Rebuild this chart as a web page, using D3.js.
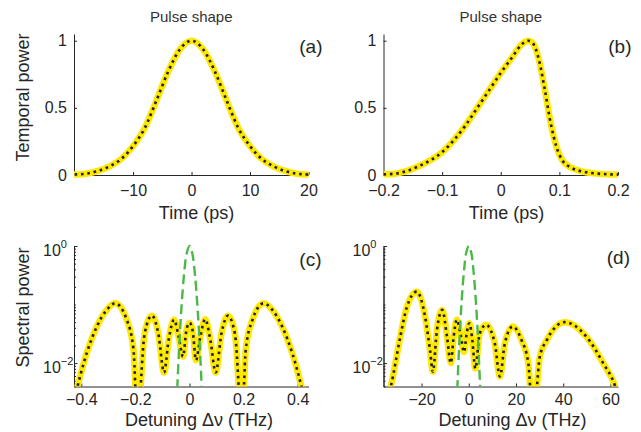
<!DOCTYPE html>
<meta charset="utf-8">
<title>Pulse shape and spectra</title>
<script src="https://d3js.org/d3.v7.min.js"></script>

<style>
  body {
    margin: 0;
    background: #fff;
  }

  svg {
    display: block;
    font-family: "Liberation Sans", Arial, Helvetica, sans-serif;
  }

  .axis path,
  .axis line {
    stroke: #262626;
  }

  .axis text {
    font-family: "Liberation Sans", Arial, Helvetica, sans-serif;
    font-size: 16px;
    fill: #262626;
  }

  .title {
    font-size: 15px;
    fill: #333;
    text-anchor: middle;
  }

  .label {
    font-size: 18px;
    fill: #262626;
    text-anchor: middle;
  }

  .tag {
    font-size: 19px;
    fill: #262626;
    text-anchor: end;
  }

  .yellow {
    fill: none;
    stroke: #ffe800;
    stroke-width: 6.5;
    stroke-linejoin: round;
    stroke-linecap: round;
  }

  .dots {
    fill: none;
    stroke: #1e1e24;
    stroke-width: 2.6;
    stroke-dasharray: 2.6 3.8;
  }

  .gauss {
    fill: none;
    stroke: #4db848;
    stroke-width: 2.4;
    stroke-dasharray: 10 5;
  }
</style>

<body>
  <svg width="641" height="432"></svg>
</body>

<script>
  // (a) temporal power, symmetric pulse
  var timeA = [-20, -18, -16, -14, -12, -10, -8, -6, -4, -2, 0, 2, 4, 6, 8, 10, 12, 14, 16, 18, 20];
  var powerA = [0.004, 0.01, 0.03, 0.065, 0.12, 0.215, 0.35, 0.555, 0.77, 0.935, 1,
    0.935, 0.77, 0.555, 0.35, 0.215, 0.12, 0.065, 0.03, 0.01, 0.004];

  // (b) temporal power, asymmetric pulse
  var timeB = [-0.2, -0.18, -0.16, -0.14, -0.12, -0.1, -0.08, -0.06, -0.04, -0.02, 0, 0.02, 0.035, 0.047,
    0.055, 0.065, 0.075, 0.085, 0.095, 0.105, 0.12, 0.14, 0.16, 0.18, 0.2];
  var powerB = [0.005, 0.01, 0.03, 0.065, 0.11, 0.17, 0.26, 0.37, 0.5, 0.63, 0.76, 0.88, 0.97, 1,
    0.98, 0.86, 0.64, 0.39, 0.21, 0.11, 0.055, 0.025, 0.012, 0.006, 0.003];

  // (c) spectral power (yellow/dotted) and reference (green dashed)
  var freqC = [-0.425, -0.38, -0.343, -0.306, -0.275, -0.232, -0.207, -0.193, -0.166, -0.139, -0.115,
    -0.094, -0.077, -0.057, -0.04, -0.024, -0.012, 0, 0.012, 0.024, 0.04, 0.058, 0.077, 0.097,
    0.118, 0.142, 0.168, 0.194, 0.208, 0.233, 0.274, 0.306, 0.343, 0.38, 0.425];
  var specC = [0.0025, 0.0148, 0.0417, 0.0813, 0.105, 0.055, 0.017, 0.001, 0.0316, 0.0646, 0.0316,
    0.0069, 0.025, 0.055, 0.028, 0.0129, 0.035, 0.049, 0.035, 0.0112, 0.028, 0.056, 0.025, 0.0069,
    0.0316, 0.0646, 0.0316, 0.001, 0.017, 0.055, 0.105, 0.0813, 0.0417, 0.0148, 0.0025];
  var freqGreenC = [-0.05, -0.04, -0.03, -0.02, -0.01, 0, 0.01, 0.02, 0.03, 0.04, 0.05];
  var specGreenC = [0.0011, 0.0126, 0.085, 0.334, 0.76, 1, 0.76, 0.334, 0.085, 0.0126, 0.0011];

  // (d) spectral power (yellow/dotted) and reference (green dashed)
  var freqD = [-36, -33, -29, -26.2, -22, -18.5, -16.4, -15.2, -13.5, -11.2, -9.2, -7.6, -6.4, -5.1,
    -3.5, -2, -0.9, 0.25, 1.5, 2.8, 4.6, 7.3, 11, 13.2, 15.3, 18.6, 22.4, 25.2, 27.3, 30.1, 33,
    40.7, 49.9, 56.9, 62, 63.5];
  var specD = [0.0016, 0.004, 0.028, 0.091, 0.166, 0.062, 0.0166, 0.0071, 0.036, 0.081, 0.028, 0.01,
    0.028, 0.055, 0.0316, 0.0155, 0.0316, 0.048, 0.025, 0.0081, 0.0316, 0.045, 0.022, 0.0059,
    0.022, 0.042, 0.0245, 0.01, 0.001, 0.0129, 0.0245, 0.05, 0.028, 0.01, 0.004, 0.0025];
  var freqGreenD = [-6, -5, -4, -3, -2, -1, 0, 1, 2, 3, 4, 5, 6];
  var specGreenD = [0.00018, 0.0025, 0.022, 0.115, 0.38, 0.79, 1, 0.79, 0.38, 0.115, 0.022, 0.0025, 0.00018];

  var svg = d3.select("svg");
  var cols = [[74, 308.5], [383.5, 618]];
  var rows = [[175, 34], [386.5, 246]];

  function panel(o) {
    var xr = cols[o.col], yr = rows[o.row];
    var x = d3.scaleLinear().domain(o.xDomain).range(xr);
    var y = o.log
      ? d3.scaleLog().domain([Math.pow(10, -2.4), 1]).range(yr)
      : d3.scaleLinear().domain([0, 1.05]).range(yr);

    var g = svg.append("g");

    // axes (drawn under the curves)
    g.append("g")
      .attr("class", "axis")
      .attr("transform", "translate(0," + yr[0] + ")")
      .call(d3.axisBottom(x).tickValues(o.xTicks).tickFormat(d3.format(""))
        .tickSizeInner(-3).tickSizeOuter(0).tickPadding(o.row ? 7 : 10));

    if (o.log) {
      var minor = y.ticks().filter(function (v) { return v !== 0.01 && v !== 1; });
      g.append("g")
        .attr("class", "axis")
        .attr("transform", "translate(" + xr[0] + ",0)")
        .call(d3.axisLeft(y).tickValues(minor).tickFormat("").tickSizeInner(-2).tickSizeOuter(0));

      var major = g.append("g")
        .attr("class", "axis")
        .attr("transform", "translate(" + xr[0] + ",0)")
        .call(d3.axisLeft(y).tickValues([0.01, 1]).tickFormat("").tickSizeInner(-3.5).tickSizeOuter(0));

      major.selectAll(".tick text")
        .attr("text-anchor", "start")
        .attr("x", -31)
        .attr("dy", null)
        .attr("y", 9.5)
        .each(function (d) {
          var t = d3.select(this);
          t.append("tspan").text("10");
          t.append("tspan")
            .attr("dy", -8.5)
            .style("font-size", "11px")
            .text(d === 1 ? "0" : "\u22122");
        });
    } else {
      g.append("g")
        .attr("class", "axis")
        .attr("transform", "translate(" + xr[0] + ",0)")
        .call(d3.axisLeft(y).tickValues([0, 0.5, 1]).tickFormat(d3.format(""))
          .tickSizeInner(-3).tickSizeOuter(0).tickPadding(7));
    }

    // curves
    var clipId = "clip" + o.tag;
    svg.append("clipPath").attr("id", clipId)
      .append("rect")
      .attr("x", xr[0]).attr("y", yr[1] - 6)
      .attr("width", xr[1] - xr[0]).attr("height", yr[0] - yr[1] + 6 + (o.log ? 0 : 6));

    var curves = g.append("g").attr("clip-path", "url(#" + clipId + ")");

    var line = d3.line()
      .x(function (d) { return x(d[0]); })
      .y(function (d) { return y(d[1]); })
      .curve(d3.curveMonotoneX);

    var pts = d3.zip(o.xs, o.ys);
    curves.append("path").attr("class", "yellow").attr("d", line(pts));
    curves.append("path").attr("class", "dots").attr("d", line(pts));

    if (o.gx) {
      curves.append("path").attr("class", "gauss")
        .attr("d", line.curve(d3.curveCatmullRom)(d3.zip(o.gx, o.gy)));
    }

    // texts
    g.append("text").attr("class", "tag")
      .attr("x", o.tagX).attr("y", o.tagY)
      .text("(" + o.tag + ")");

    g.append("text").attr("class", "label")
      .attr("x", o.labelX).attr("y", o.row ? 426 : 219)
      .text(o.row ? "Detuning \u0394\u03bd (THz)" : "Time (ps)");

    if (!o.row) {
      g.append("text").attr("class", "title")
        .attr("x", (xr[0] + xr[1]) / 2).attr("y", 21.5)
        .text("Pulse shape");
    }
  }

  panel({ tag: "a", row: 0, col: 0, xDomain: [-20.1, 20], xTicks: [-10, 0, 10, 20],
    xs: timeA, ys: powerA, tagX: 322.5, tagY: 53, labelX: 196.5 });
  panel({ tag: "b", row: 0, col: 1, xDomain: [-0.2, 0.2], xTicks: [-0.2, -0.1, 0, 0.1, 0.2],
    xs: timeB, ys: powerB, tagX: 631.5, tagY: 53, labelX: 506.5 });
  panel({ tag: "c", row: 1, col: 0, log: true, xDomain: [-0.427, 0.44], xTicks: [-0.4, -0.2, 0, 0.2, 0.4],
    xs: freqC, ys: specC, gx: freqGreenC, gy: specGreenC, tagX: 321.5, tagY: 266, labelX: 199 });
  panel({ tag: "d", row: 1, col: 1, log: true, xDomain: [-36.1, 63.2], xTicks: [-20, 0, 20, 40, 60],
    xs: freqD, ys: specD, gx: freqGreenD, gy: specGreenD, tagX: 630, tagY: 263.5, labelX: 512.5 });

  svg.append("text").attr("class", "label")
    .attr("transform", "translate(28.5,97.5) rotate(-90)")
    .text("Temporal power");
  svg.append("text").attr("class", "label")
    .attr("transform", "translate(28.5,307.5) rotate(-90)")
    .text("Spectral power");
</script>
